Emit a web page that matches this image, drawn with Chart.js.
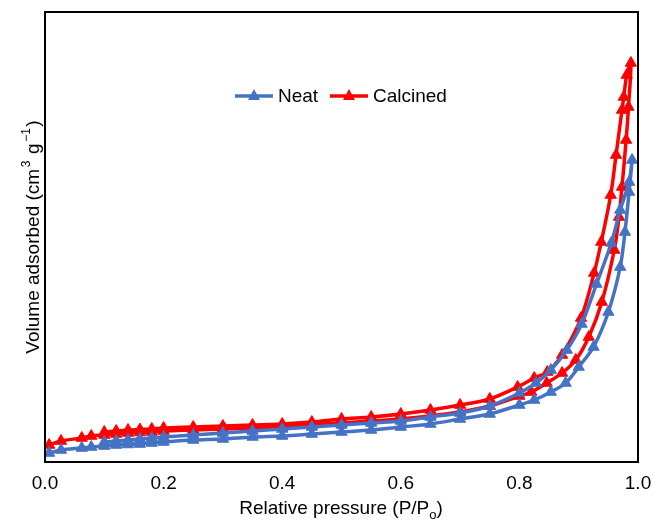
<!DOCTYPE html>
<html>
<head>
<meta charset="utf-8">
<script src="https://cdn.jsdelivr.net/npm/chart.js@4"></script>
<style>
  body { margin: 0; background: #fff; }
  #wrap { width: 655px; height: 520px; }
</style>
</head>
<body>
<div id="wrap"><canvas id="isotherm" width="655" height="520"></canvas></div>
<script>
// Data (volume in arbitrary units, y axis has no labels)
const seriesNames = ['Neat', 'Calcined'];
const xTicks = [0.0, 0.2, 0.4, 0.6, 0.8, 1.0];

// Neat - adsorption branch
const neatAdsP = [0.007, 0.027, 0.062, 0.078, 0.1, 0.12, 0.14, 0.16, 0.18, 0.2, 0.25, 0.3, 0.35, 0.4, 0.45, 0.5, 0.55, 0.6, 0.65, 0.7, 0.75, 0.8, 0.825, 0.853, 0.878, 0.9, 0.925, 0.95, 0.97, 0.978, 0.985, 0.99];
const neatAdsV = [9, 12, 14, 15, 16, 17, 17.5, 18, 19, 20, 22, 23, 25, 26, 28, 30, 32, 35, 38, 43, 48, 57, 62, 70, 79, 95, 115, 150, 195, 230, 270, 302];
// Neat - desorption branch
const neatDesP = [0.985, 0.97, 0.955, 0.93, 0.905, 0.88, 0.853, 0.828, 0.8, 0.75, 0.7, 0.65, 0.6, 0.55, 0.5, 0.45, 0.4, 0.35, 0.3, 0.25, 0.2, 0.18, 0.16, 0.14, 0.12, 0.1];
const neatDesV = [280, 252, 219, 178, 138, 112, 92, 79, 69, 56, 49, 45, 41, 39, 37, 35, 33, 31, 29, 27, 25, 24, 23, 22, 21, 20];

// Calcined - adsorption branch
const calcAdsP = [0.007, 0.027, 0.062, 0.078, 0.1, 0.12, 0.14, 0.16, 0.18, 0.2, 0.25, 0.3, 0.35, 0.4, 0.45, 0.5, 0.55, 0.6, 0.65, 0.7, 0.75, 0.8, 0.82, 0.846, 0.872, 0.895, 0.917, 0.939, 0.96, 0.968, 0.973, 0.98, 0.984, 0.988];
const calcAdsV = [17, 21, 24, 26, 27, 28, 29, 29.5, 30, 31, 32, 33, 34, 35, 37, 39, 41, 43, 46, 50, 56, 66, 70, 79, 89, 102, 125, 160, 212, 245, 275, 322, 355, 399];
// Calcined - desorption branch
const calcDesP = [0.981, 0.976, 0.973, 0.963, 0.954, 0.938, 0.926, 0.904, 0.872, 0.847, 0.825, 0.797, 0.75, 0.7, 0.65, 0.6, 0.55, 0.5, 0.45, 0.4, 0.35, 0.3, 0.25, 0.2, 0.18, 0.16, 0.14, 0.12, 0.1];
const calcDesV = [387, 365, 352, 307, 267, 220, 189, 144, 107, 90, 84, 75, 63, 57, 52, 48, 45, 43, 40, 38, 37, 36, 35, 34, 33, 32.5, 32, 31, 30];

const colors = ['#4472C4', '#FF0000'];
const FONT = 'Liberation Sans, Arial, Helvetica, sans-serif';

function toPoints(p1, v1, p2, v2) {
    const pts = p1.map((p, i) => ({ x: p, y: v1[i] }));
    return pts.concat(p2.map((p, i) => ({ x: p, y: v2[i] })));
}

// frame, legend and axis titles (with super/subscripts)
const extras = {
    id: 'extras',
    afterDraw(chart) {
        const ctx = chart.ctx;
        const a = chart.chartArea;
        ctx.save();
        ctx.strokeStyle = '#000';
        ctx.lineWidth = 2;
        ctx.strokeRect(a.left, a.top, a.right - a.left, a.bottom - a.top);

        // legend
        const legendY = 96;
        const items = [
            { x: 235, text: seriesNames[0], color: colors[0] },
            { x: 330, text: seriesNames[1], color: colors[1] }
        ];
        items.forEach(it => {
            ctx.strokeStyle = it.color;
            ctx.lineWidth = 3.5;
            ctx.beginPath();
            ctx.moveTo(it.x, legendY);
            ctx.lineTo(it.x + 38, legendY);
            ctx.stroke();
            const cx = it.x + 19;
            ctx.fillStyle = it.color;
            ctx.beginPath();
            ctx.moveTo(cx, legendY - 7);
            ctx.lineTo(cx + 6, legendY + 4);
            ctx.lineTo(cx - 6, legendY + 4);
            ctx.closePath();
            ctx.fill();
            ctx.fillStyle = '#000';
            ctx.font = '19px ' + FONT;
            ctx.textBaseline = 'middle';
            ctx.textAlign = 'left';
            ctx.fillText(it.text, it.x + 43, legendY + 1);
        });

        // x title
        ctx.fillStyle = '#000';
        ctx.textBaseline = 'alphabetic';
        ctx.textAlign = 'left';
        const xa = 'Relative pressure (P/P', xs = 'o', xb = ')';
        ctx.font = '19px ' + FONT;
        const wA = ctx.measureText(xa).width, wB = ctx.measureText(xb).width;
        ctx.font = '13px ' + FONT;
        const wS = ctx.measureText(xs).width;
        let x0 = 341 - (wA + wS + wB) / 2;
        const base = 514;
        ctx.font = '19px ' + FONT;
        ctx.fillText(xa, x0, base);
        ctx.font = '13px ' + FONT;
        ctx.fillText(xs, x0 + wA, base + 5);
        ctx.font = '19px ' + FONT;
        ctx.fillText(xb, x0 + wA + wS, base);

        // y title
        ctx.translate(39, (a.top + a.bottom) / 2);
        ctx.rotate(-Math.PI / 2);
        const parts = [
            { t: 'Volume adsorbed (cm', sup: false },
            { t: '3', sup: true },
            { t: ' g', sup: false },
            { t: '\u22121', sup: true },
            { t: ')', sup: false }
        ];
        let total = 0;
        parts.forEach(p => {
            ctx.font = (p.sup ? '12px ' : '19px ') + FONT;
            p.w = ctx.measureText(p.t).width + (p.sup ? 3 : 0);
            total += p.w;
        });
        let px = -total / 2;
        parts.forEach(p => {
            ctx.font = (p.sup ? '12px ' : '19px ') + FONT;
            ctx.fillText(p.t, px + (p.sup ? 1.5 : 0), p.sup ? -9 : 0);
            px += p.w;
        });
        ctx.restore();
    }
};

const datasets = [
    toPoints(neatAdsP, neatAdsV, neatDesP, neatDesV),
    toPoints(calcAdsP, calcAdsV, calcDesP, calcDesV)
].map((pts, i) => ({
    label: seriesNames[i],
    data: pts,
    showLine: true,
    borderColor: colors[i],
    backgroundColor: colors[i],
    borderWidth: 3.5,
    tension: 0.3,
    pointStyle: 'triangle',
    pointRadius: 6.5,
    pointBorderWidth: 1,
    pointBorderColor: colors[i],
    pointBackgroundColor: colors[i]
}));

new Chart(document.getElementById('isotherm'), {
    type: 'scatter',
    data: { datasets: datasets },
    options: {
        responsive: false,
        animation: false,
        layout: { padding: { top: 12, right: 17, left: 0, bottom: 0 } },
        plugins: { legend: { display: false }, tooltip: { enabled: false } },
        scales: {
            x: {
                type: 'linear',
                min: 0,
                max: 1,
                afterBuildTicks: s => { s.ticks = xTicks.map(v => ({ value: v })); },
                afterFit: s => { s.height = 58; s.paddingLeft = 0; s.paddingRight = 0; },
                grid: { display: false, drawTicks: false },
                border: { display: false },
                ticks: {
                    color: '#000',
                    padding: 10,
                    maxRotation: 0,
                    font: { family: FONT, size: 19 },
                    callback: v => v.toFixed(1)
                }
            },
            y: {
                min: 0,
                max: 450,
                afterFit: s => { s.width = 45; },
                grid: { display: false, drawTicks: false },
                border: { display: false },
                ticks: { display: false }
            }
        }
    },
    plugins: [extras]
});
</script>
</body>
</html>
